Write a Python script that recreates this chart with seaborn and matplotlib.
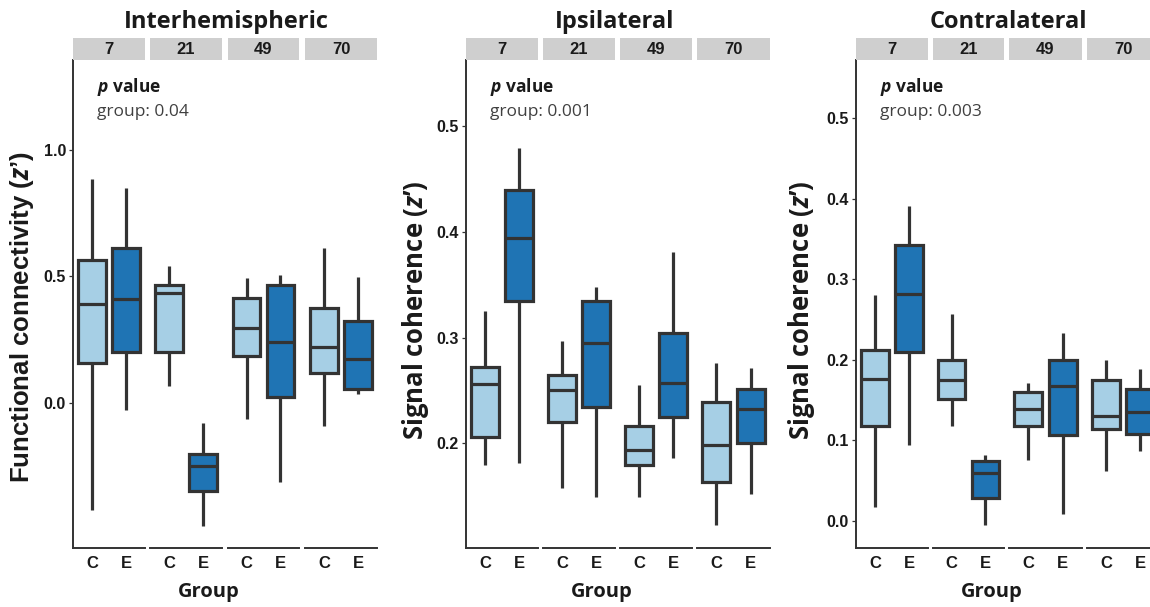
import numpy as np
import pandas as pd
import matplotlib
matplotlib.use("Agg")
import matplotlib.pyplot as plt
from matplotlib.patches import Rectangle
import seaborn as sns

# ---------------- data (box statistics) ----------------
facets = ["7", "21", "49", "70"]
groups = ["C", "E"]

inter_wlo = [-0.425, -0.029, 0.066, -0.487, -0.066, -0.313, -0.091, 0.033]
inter_q1 = [0.156, 0.202, 0.199, -0.349, 0.186, 0.024, 0.116, 0.053]
inter_med = [0.390, 0.412, 0.433, -0.249, 0.294, 0.241, 0.219, 0.172]
inter_q3 = [0.565, 0.611, 0.466, -0.204, 0.416, 0.466, 0.373, 0.323]
inter_whi = [0.884, 0.848, 0.541, -0.082, 0.495, 0.505, 0.611, 0.499]

ipsi_wlo = [0.179, 0.181, 0.157, 0.149, 0.149, 0.186, 0.122, 0.152]
ipsi_q1 = [0.206, 0.335, 0.220, 0.234, 0.179, 0.225, 0.163, 0.200]
ipsi_med = [0.256, 0.394, 0.250, 0.295, 0.193, 0.257, 0.198, 0.232]
ipsi_q3 = [0.272, 0.440, 0.264, 0.335, 0.216, 0.304, 0.239, 0.251]
ipsi_whi = [0.325, 0.480, 0.297, 0.348, 0.255, 0.381, 0.276, 0.271]

contra_wlo = [0.017, 0.094, 0.117, -0.006, 0.075, 0.008, 0.061, 0.087]
contra_q1 = [0.118, 0.209, 0.151, 0.028, 0.118, 0.106, 0.114, 0.107]
contra_med = [0.176, 0.282, 0.175, 0.059, 0.139, 0.167, 0.130, 0.135]
contra_q3 = [0.212, 0.342, 0.199, 0.074, 0.160, 0.199, 0.175, 0.163]
contra_whi = [0.280, 0.391, 0.256, 0.082, 0.171, 0.233, 0.200, 0.188]

titles = ["Interhemispheric", "Ipsilateral", "Contralateral"]
ylabels = ["Functional connectivity", "Signal coherence", "Signal coherence"]
pvalues = ["group: 0.04", "group: 0.001", "group: 0.003"]
yticks = [[0.0, 0.5, 1.0], [0.2, 0.3, 0.4, 0.5], [0.0, 0.1, 0.2, 0.3, 0.4, 0.5]]
ylims = [(-0.575, 1.356), (0.1005, 0.563), (-0.034, 0.572)]

panels = [
    (inter_wlo, inter_q1, inter_med, inter_q3, inter_whi),
    (ipsi_wlo, ipsi_q1, ipsi_med, ipsi_q3, ipsi_whi),
    (contra_wlo, contra_q1, contra_med, contra_q3, contra_whi),
]


def build_frame(stats):
    rows = []
    k = 0
    for f in facets:
        for g in groups:
            for s in stats:
                rows.append({"Day": f, "Group": g, "value": s[k]})
            k += 1
    return pd.DataFrame(rows)


# ---------------- styling ----------------
sns.set_style("white")
plt.rcParams["font.family"] = ["Liberation Sans", "DejaVu Sans"]
plt.rcParams["mathtext.fontset"] = "custom"
plt.rcParams["mathtext.it"] = "Open Sans:italic:bold"
plt.rcParams["mathtext.rm"] = "Open Sans:bold"
plt.rcParams["mathtext.bf"] = "Open Sans:bold"

W, H = 1150, 607
fig = plt.figure(figsize=(W / 100, H / 100), dpi=100)
fig.patch.set_facecolor("white")

pal = {"C": "#a6cfe5", "E": "#1f74b4"}
edge = "#333333"

# facet x-extents in pixels for each panel
panel_facets = [
    [(73, 145), (150, 222), (228, 299), (305, 377)],
    [(466, 538), (543, 615), (620, 692), (697, 770)],
    [(856, 928), (933, 1004), (1009, 1082), (1087, 1159)],
]
ylab_x = [22, 415, 802]
ylab_y = [317, 310, 310]
ylab_font = [("Liberation Sans", 18.5), ("Open Sans", 18.5), ("Open Sans", 18.5)]
title_x = [226, 615, 1008]
group_x = [209, 602, 992]
ax_top, ax_bot = 60, 548
strip_top = 38


def fx(px):
    return px / W


def fy(py):
    return 1 - py / H


for p in range(3):
    df = build_frame(panels[p])
    for i, f in enumerate(facets):
        x0, x1 = panel_facets[p][i]
        ax = fig.add_axes([fx(x0), fy(ax_bot), fx(x1 - x0), (ax_bot - ax_top) / H])
        sub = df[df["Day"] == f]
        sns.boxplot(
            data=sub, x="Group", y="value", hue="Group", order=groups,
            hue_order=groups, palette=pal, legend=False, width=0.8,
            saturation=1, whis=(0, 100), showcaps=False, showfliers=False,
            linecolor=edge, linewidth=2.3, ax=ax,
        )
        ax.set_xlim(-0.55, 1.55)
        ax.set_ylim(*ylims[p])
        ax.set_xlabel("")
        ax.set_ylabel("")
        for s in ["top", "right"]:
            ax.spines[s].set_visible(False)
        ax.spines["bottom"].set_color(edge)
        ax.spines["bottom"].set_linewidth(1.4)
        ax.tick_params(axis="x", length=3, width=0.9, color=edge, pad=3,
                       labelsize=12, labelcolor="#1a1a1a")
        for lab in ax.get_xticklabels():
            lab.set_fontweight("bold")
        if i == 0:
            ax.spines["left"].set_color(edge)
            ax.spines["left"].set_linewidth(1.4)
            ax.set_yticks(yticks[p])
            ax.set_yticklabels([f"{t:.1f}" for t in yticks[p]],
                               fontweight="bold", fontsize=11.5, color="#1a1a1a")
            ax.tick_params(axis="y", length=3, width=0.9, color=edge, pad=2, left=True)
        else:
            ax.spines["left"].set_visible(False)
            ax.set_yticks([])
        ax.patch.set_alpha(0)
        # facet strip
        fig.patches.append(Rectangle((fx(x0), fy(ax_top)), fx(x1 - x0), (ax_top - strip_top) / H,
                                     transform=fig.transFigure, facecolor="#cfcfcf",
                                     edgecolor="none", zorder=0))
        fig.text(fx((x0 + x1) / 2), fy((ax_top + strip_top) / 2 + 0.5), f,
                 ha="center", va="center", fontsize=12, fontweight="bold", color="#1a1a1a")

    px0 = panel_facets[p][0][0]
    fig.text(fx(title_x[p]), fy(22), titles[p], ha="center", va="center",
             fontsize=17, fontweight="bold", family="Open Sans", color="#1a1a1a")
    fig.text(fx(group_x[p]), fy(592), "Group", ha="center", va="center",
             fontsize=14.5, fontweight="bold", family="Open Sans", color="#1a1a1a")
    fam, fs = ylab_font[p]
    fig.text(fx(ylab_x[p]), fy(ylab_y[p]), ylabels[p] + r" ($z$’)", rotation=90,
             ha="center", va="center", fontsize=fs, fontweight="bold",
             family=[fam, "DejaVu Sans"], color="#1a1a1a")
    fig.text(fx(px0 + 24), fy(87), r"$p$ value", ha="left", va="center",
             fontsize=12.5, family="Open Sans", fontweight="bold", color="#1a1a1a")
    fig.text(fx(px0 + 24), fy(112), pvalues[p], ha="left", va="center",
             fontsize=12.5, family="Open Sans", color="#404040")

fig.savefig("out.png", dpi=100)
